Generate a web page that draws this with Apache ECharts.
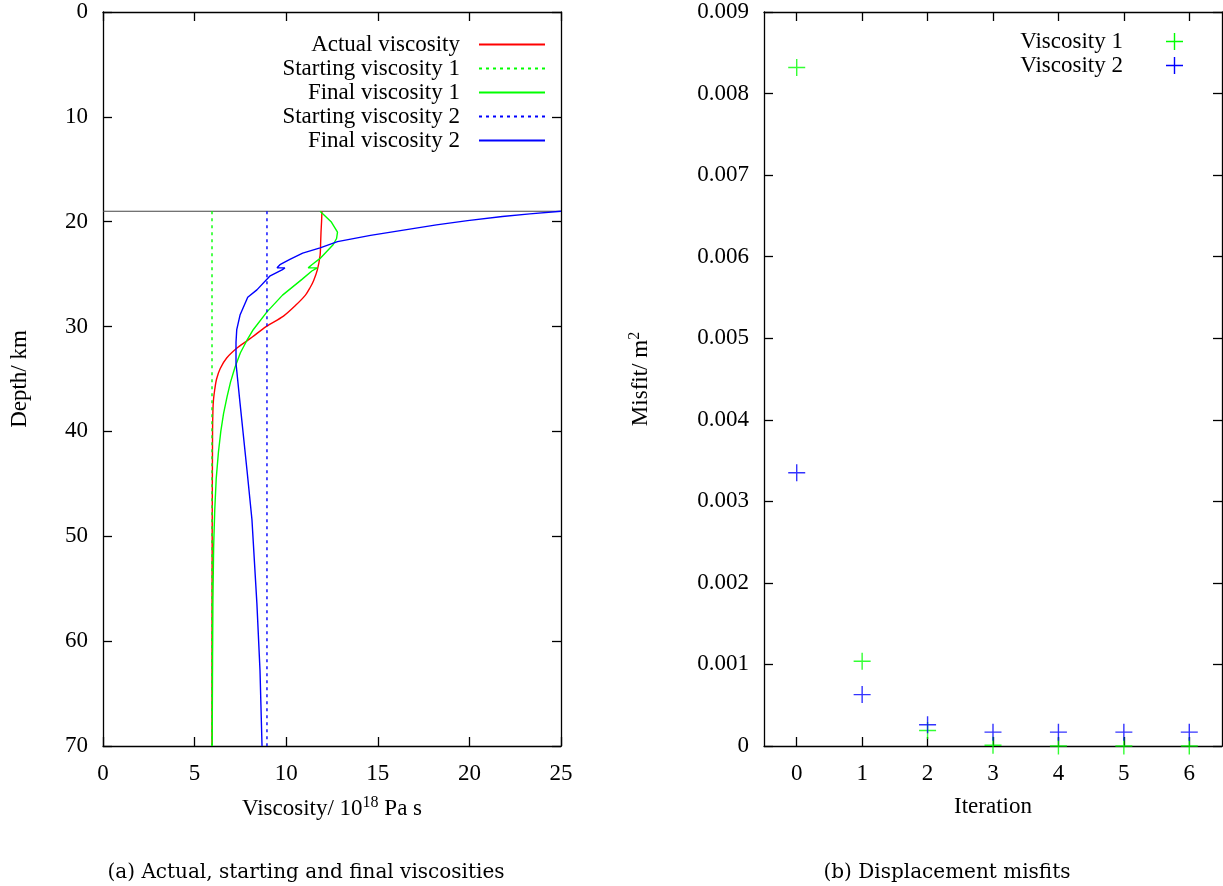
<!DOCTYPE html>
<html>
<head>
<meta charset="utf-8">
<script src="https://cdn.jsdelivr.net/npm/echarts@6/dist/echarts.min.js"></script>
<style>
  html, body { margin: 0; padding: 0; background: #fff; }
  #chart { width: 1223px; height: 886px; }
</style>
</head>
<body>
<div id="chart"></div>
<script>
// left panel: viscosity profiles (x = viscosity / 1e18 Pa s, y = depth / km)
var actualDepth = [19, 20, 21, 22, 23.2, 24.6, 25.6, 26.3, 27, 28, 29, 30, 31, 32, 33, 34, 35, 36, 37, 38, 40, 50, 60, 70];
var actualVisc  = [11.95, 11.93, 11.9, 11.88, 11.85, 11.7, 11.5, 11.3, 11.05, 10.5, 9.85, 8.9, 8.15, 7.35, 6.75, 6.4, 6.2, 6.1, 6.03, 6.0, 5.98, 5.96, 5.95, 5.95];

var startDepth = [19, 70];
var startVisc1 = [5.95, 5.95];
var startVisc2 = [8.95, 8.95];

var finalDepth1 = [19, 20, 21, 21.6, 22.2, 23.5, 24.1, 24.4, 24.4, 24.7, 25.5, 27, 28.6, 30.3, 31.3, 32.5, 33.9, 35.3, 36.7, 38.3, 40, 42, 44.5, 47.5, 51, 56, 62, 70];
var finalVisc1  = [11.85, 12.45, 12.8, 12.75, 12.56, 11.85, 11.4, 11.2, 11.7, 11.4, 10.86, 9.8, 8.95, 8.2, 7.86, 7.5, 7.2, 6.96, 6.77, 6.58, 6.43, 6.3, 6.18, 6.1, 6.04, 6.0, 5.98, 5.96];

var finalDepth2 = [19.0, 19.25, 19.5, 19.9, 20.3, 20.8, 21.3, 21.9, 22.5, 23.0, 23.6, 24.1, 24.4, 24.4, 24.6, 25.2, 26.5, 27.2, 28.9, 30.3, 31.5, 33.5, 37.3, 43.7, 48.4, 56.4, 62.8, 70];
var finalVisc2  = [25, 23.3, 21.8, 19.9, 18.2, 16.4, 14.6, 12.8, 11.85, 10.9, 10.2, 9.66, 9.5, 9.93, 9.77, 9.1, 8.4, 7.9, 7.48, 7.3, 7.26, 7.26, 7.48, 7.86, 8.13, 8.4, 8.57, 8.68];

var boundaryDepth = [19, 19];
var boundaryVisc  = [0, 25];

// right panel: misfit per iteration
var iterations = ['0', '1', '2', '3', '4', '5', '6'];
var misfit1 = [0.00832, 0.00104, 0.00019, 0.00001, 0.0, 0.0, 0.0];
var misfit2 = [0.00335, 0.00063, 0.00026, 0.00017, 0.00017, 0.00017, 0.00017];

var FONT = '"Liberation Serif", "DejaVu Serif", serif';
var CAPTION_FONT = '"DejaVu Serif", serif';
var PLUS = 'path://M0,7.8h17v1.4h-17z M7.8,0h1.4v17h-1.4z';

function pairs(xs, ys) {
    var out = [];
    for (var i = 0; i < xs.length; i++) out.push([xs[i], ys[i]]);
    return out;
}

var axisLine = { show: true, onZero: false, lineStyle: { color: '#000', width: 1.3 } };
var tickIn = { show: true, inside: true, length: 9, lineStyle: { color: '#000', width: 1.3 } };
var labelStyle = { color: '#000', fontFamily: FONT, fontSize: 23 };
var supStyle = { sup: { fontFamily: FONT, fontSize: 16, verticalAlign: 'top', padding: [0, 0, 12, 0] } };

function legendItem(name, top, right, icon, w, h, pad) {
    var l = {
        data: [name],
        orient: 'vertical',
        align: 'right',
        right: right,
        top: top,
        itemWidth: w,
        itemHeight: h,
        padding: 0,
        itemStyle: { opacity: icon ? 1 : 0 },
        textStyle: { color: '#000', fontFamily: FONT, fontSize: 23, padding: [0, pad, 0, 0] }
    };
    if (icon) l.icon = icon;
    return l;
}

var chart = echarts.init(document.getElementById('chart'));

var option = {
    backgroundColor: '#fff',
    animation: false,
    title: [
        { text: '(a) Actual, starting and final viscosities', left: 301, top: 858, textAlign: 'center',
          textStyle: { fontFamily: CAPTION_FONT, fontSize: 20, fontWeight: 'normal', color: '#000' } },
        { text: '(b) Displacement misfits', left: 942, top: 858, textAlign: 'center',
          textStyle: { fontFamily: CAPTION_FONT, fontSize: 20, fontWeight: 'normal', color: '#000' } }
    ],
    legend: [
        legendItem('Actual viscosity', 33, 677, null, 66, 10, 14),
        legendItem('Starting viscosity 1', 57, 677, null, 66, 10, 14),
        legendItem('Final viscosity 1', 81, 677, null, 66, 10, 14),
        legendItem('Starting viscosity 2', 105, 677, null, 66, 10, 14),
        legendItem('Final viscosity 2', 129, 677, null, 66, 10, 14),
        legendItem('Viscosity 1', 30, 40, PLUS, 17, 17, 38),
        legendItem('Viscosity 2', 54, 40, PLUS, 17, 17, 38)
    ],
    grid: [
        { left: 103, top: 12, width: 458, height: 734, show: false },
        { left: 764, top: 12, width: 458, height: 734, show: false }
    ],
    xAxis: [
        { type: 'value', gridIndex: 0, min: 0, max: 25, interval: 5, position: 'bottom',
          axisLine: axisLine, axisTick: tickIn, splitLine: { show: false },
          axisLabel: Object.assign({ margin: 16 }, labelStyle),
          name: 'Viscosity/ 10{sup|18} Pa s', nameLocation: 'middle', nameGap: 49,
          nameTextStyle: { color: '#000', fontFamily: FONT, fontSize: 23, verticalAlign: 'top', rich: supStyle } },
        { type: 'value', gridIndex: 0, min: 0, max: 25, interval: 5, position: 'top',
          axisLine: axisLine, axisTick: tickIn, axisLabel: { show: false }, splitLine: { show: false } },
        { type: 'category', gridIndex: 1, data: iterations, position: 'bottom', boundaryGap: true,
          axisLine: axisLine, axisTick: Object.assign({ alignWithLabel: true }, tickIn),
          axisLabel: Object.assign({ margin: 16 }, labelStyle),
          name: 'Iteration', nameLocation: 'middle', nameGap: 49,
          nameTextStyle: { color: '#000', fontFamily: FONT, fontSize: 23, verticalAlign: 'top' } },
        { type: 'category', gridIndex: 1, data: iterations, position: 'top', boundaryGap: true,
          axisLine: axisLine, axisTick: Object.assign({ alignWithLabel: true }, tickIn),
          axisLabel: { show: false } }
    ],
    yAxis: [
        { type: 'value', gridIndex: 0, min: 0, max: 70, interval: 10, inverse: true, position: 'left',
          axisLine: axisLine, axisTick: tickIn, splitLine: { show: false },
          axisLabel: Object.assign({ margin: 15 }, labelStyle),
          name: 'Depth/ km', nameLocation: 'middle', nameGap: 72,
          nameTextStyle: { color: '#000', fontFamily: FONT, fontSize: 23 } },
        { type: 'value', gridIndex: 0, min: 0, max: 70, interval: 10, inverse: true, position: 'right',
          axisLine: axisLine, axisTick: tickIn, axisLabel: { show: false }, splitLine: { show: false } },
        { type: 'value', gridIndex: 1, min: 0, max: 0.009, interval: 0.001, position: 'left',
          axisLine: axisLine, axisTick: tickIn, splitLine: { show: false },
          axisLabel: Object.assign({ margin: 15, formatter: function (v) { return v === 0 ? '0' : v.toFixed(3); } }, labelStyle),
          name: 'Misfit/ m{sup|2}', nameLocation: 'middle', nameGap: 109,
          nameTextStyle: { color: '#000', fontFamily: FONT, fontSize: 23, rich: supStyle } },
        { type: 'value', gridIndex: 1, min: 0, max: 0.009, interval: 0.001, position: 'right',
          axisLine: axisLine, axisTick: tickIn, axisLabel: { show: false }, splitLine: { show: false } }
    ],
    series: [
        { name: 'boundary', type: 'line', xAxisIndex: 0, yAxisIndex: 0, symbol: 'none',
          lineStyle: { color: '#444', width: 1.2 }, data: pairs(boundaryVisc, boundaryDepth) },
        { name: 'Actual viscosity', type: 'line', xAxisIndex: 0, yAxisIndex: 0, symbol: 'none', smooth: 0.3,
          color: '#ff0000', lineStyle: { color: '#ff0000', width: 1.4 }, data: pairs(actualVisc, actualDepth) },
        { name: 'Starting viscosity 1', type: 'line', xAxisIndex: 0, yAxisIndex: 0, symbol: 'none',
          color: '#00ff00', lineStyle: { color: '#00ff00', width: 1.4, type: [3, 4] }, data: pairs(startVisc1, startDepth) },
        { name: 'Final viscosity 1', type: 'line', xAxisIndex: 0, yAxisIndex: 0, symbol: 'none',
          color: '#00ff00', lineStyle: { color: '#00ff00', width: 1.4 }, data: pairs(finalVisc1, finalDepth1) },
        { name: 'Starting viscosity 2', type: 'line', xAxisIndex: 0, yAxisIndex: 0, symbol: 'none',
          color: '#0000ff', lineStyle: { color: '#0000ff', width: 1.4, type: [3, 4] }, data: pairs(startVisc2, startDepth) },
        { name: 'Final viscosity 2', type: 'line', xAxisIndex: 0, yAxisIndex: 0, symbol: 'none',
          color: '#0000ff', lineStyle: { color: '#0000ff', width: 1.4 }, data: pairs(finalVisc2, finalDepth2) },
        { name: 'Viscosity 1', type: 'scatter', xAxisIndex: 2, yAxisIndex: 2, symbol: PLUS, symbolSize: 17,
          itemStyle: { color: '#00ff00' }, data: misfit1 },
        { name: 'Viscosity 2', type: 'scatter', xAxisIndex: 2, yAxisIndex: 2, symbol: PLUS, symbolSize: 17,
          itemStyle: { color: '#0000ff' }, data: misfit2 }
    ]
};

chart.setOption(option);
</script>
</body>
</html>
